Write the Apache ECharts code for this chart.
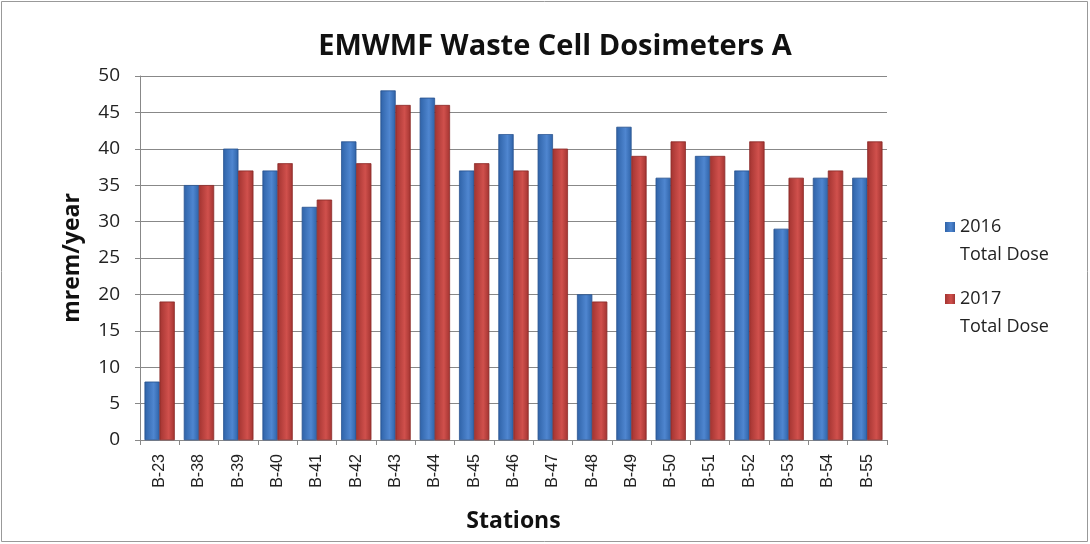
<!DOCTYPE html>
<html><head><meta charset="utf-8">
<script src="https://cdn.jsdelivr.net/npm/echarts@6/dist/echarts.min.js"></script>
<style>html,body{margin:0;padding:0;background:#fff}#c{width:1090px;height:544px}</style>
</head><body><div id="c"></div>
<script>
const categories = ['B-23','B-38','B-39','B-40','B-41','B-42','B-43','B-44','B-45','B-46','B-47','B-48','B-49','B-50','B-51','B-52','B-53','B-54','B-55'];
const dose2016 = [8,35,40,37,32,41,48,47,37,42,42,20,43,36,39,37,29,36,36];
const dose2017 = [19,35,37,38,33,38,46,46,38,37,40,19,39,41,39,41,36,37,41];
const seriesNames = ['2016\nTotal Dose','2017\nTotal Dose'];
const yTicks = {min:0,max:50,interval:5};

const chart = echarts.init(document.getElementById('c'));
const grad = (a,b)=>new echarts.graphic.LinearGradient(0,0,1,0,[{offset:0,color:a},{offset:0.6,color:b},{offset:1,color:a}]);
chart.setOption({
  backgroundColor:'#fff',
  title:{text:'EMWMF Waste Cell Dosimeters A',left:550,textAlign:'center',top:27,
    textStyle:{fontFamily:'Open Sans',fontWeight:'bold',fontSize:29,color:'#111'}},
  graphic:[{type:'rect',shape:{x:1.5,y:1.5,width:1086,height:540},style:{fill:'none',stroke:'#999',lineWidth:1}}],
  legend:{orient:'vertical',left:940,top:208,itemWidth:10,itemHeight:38,itemGap:16,
    icon:'path://M0,0L10,0L10,10L0,10Z M5,38L5.001,38L5,38Z',
    itemStyle:{borderWidth:0},
    textStyle:{fontFamily:'Open Sans',fontSize:18,color:'#222',lineHeight:28},
    data:seriesNames},
  grid:{left:140,right:203,top:76,bottom:104},
  xAxis:{type:'category',data:categories,
    name:'Stations',nameLocation:'middle',nameGap:70,
    nameTextStyle:{fontFamily:'Open Sans',fontWeight:'bold',fontSize:23,color:'#111'},
    axisLine:{lineStyle:{color:'#888'}},axisTick:{show:true,lineStyle:{color:'#888'}},
    axisLabel:{rotate:90,fontFamily:'Liberation Sans',fontSize:16,color:'#222',margin:14}},
  yAxis:{type:'value',min:yTicks.min,max:yTicks.max,interval:yTicks.interval,
    name:'mrem/year',nameLocation:'middle',nameGap:56,
    nameTextStyle:{fontFamily:'Open Sans',fontWeight:'bold',fontSize:23,color:'#111'},
    axisLine:{show:true,lineStyle:{color:'#888'}},axisTick:{show:true,lineStyle:{color:'#888'}},
    axisLabel:{fontFamily:'Open Sans',fontSize:19,color:'#222',margin:20},
    splitLine:{lineStyle:{color:'#888',width:1.2}}},
  series:[
    {name:seriesNames[0],type:'bar',data:dose2016,barWidth:15,barGap:'0%',
      itemStyle:{color:grad('#2f63a8','#4f86d0'),borderColor:'#2a5590',borderWidth:0.5}},
    {name:seriesNames[1],type:'bar',data:dose2017,barWidth:15,
      itemStyle:{color:grad('#a33431','#d0504c'),borderColor:'#8c2c2a',borderWidth:0.5}}
  ]
});
</script></body></html>
